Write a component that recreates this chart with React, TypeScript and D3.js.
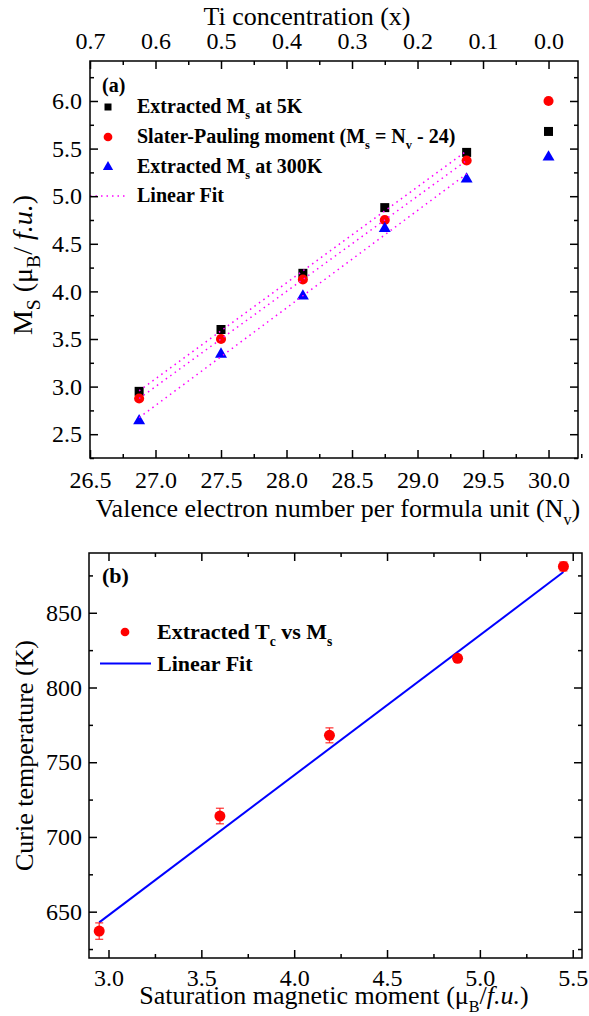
import React, { useEffect, useRef } from "react";
import * as d3 from "d3";

// ---------- Panel (a) data ----------
const nvValues = [26.875, 27.5, 28.125, 28.75, 29.375, 30.0];
const ms5K = [2.95, 3.6, 4.19, 4.88, 5.46, 5.68];
const msSlaterPauling = [2.875, 3.5, 4.125, 4.75, 5.375, 6.0];
const ms300K = [2.64, 3.34, 3.95, 4.66, 5.18, 5.41];
const fitCount = 5; // linear fits use the first five compositions

const nvMajorTicks = [26.5, 27.0, 27.5, 28.0, 28.5, 29.0, 29.5, 30.0];
const nvMinorTicks = [26.75, 27.25, 27.75, 28.25, 28.75, 29.25, 29.75, 30.25];
const tiMajorTicks = [0.7, 0.6, 0.5, 0.4, 0.3, 0.2, 0.1, 0.0];
const tiMinorTicks = [0.65, 0.55, 0.45, 0.35, 0.25, 0.15, 0.05];
const msMajorTicks = [2.5, 3.0, 3.5, 4.0, 4.5, 5.0, 5.5, 6.0];
const msMinorTicks = [2.25, 2.75, 3.25, 3.75, 4.25, 4.75, 5.25, 5.75, 6.25];

// ---------- Panel (b) data ----------
const msB = [2.95, 3.6, 4.19, 4.88, 5.45];
const tcB = [637, 714, 768, 819.5, 881];
const tcErr = [5.5, 5.2, 5.0, 2.0, 3.0];
const fitBCoef = [366.3, 93.75]; // intercept, slope

const msBMajorTicks = [3.0, 3.5, 4.0, 4.5, 5.0, 5.5];
const msBMinorTicks = [3.25, 3.75, 4.25, 4.75, 5.25];
const tcMajorTicks = [650, 700, 750, 800, 850];
const tcMinorTicks = [625, 675, 725, 775, 825, 875];

const FONT = "Liberation Serif, DejaVu Serif, serif";

const A = { l: 90, r: 578, t: 61, b: 458 };
const B = { l: 89, r: 582, t: 553, b: 958 };

const xA = d3.scaleLinear().domain([26.5, 30.225]).range([A.l, A.r]);
const xATop = d3.scaleLinear().domain([0.7, -0.045]).range([A.l, A.r]);
const yA = d3.scaleLinear().domain([2.25, 6.42]).range([A.b, A.t]);
const xB = d3.scaleLinear().domain([2.895, 5.55]).range([B.l, B.r]);
const yB = d3.scaleLinear().domain([619, 890]).range([B.b, B.t]);

function linFit(xs: number[], ys: number[]) {
  const n = xs.length;
  const mx = d3.mean(xs) as number;
  const my = d3.mean(ys) as number;
  let sxy = 0, sxx = 0;
  for (let i = 0; i < n; i++) {
    sxy += (xs[i] - mx) * (ys[i] - my);
    sxx += (xs[i] - mx) * (xs[i] - mx);
  }
  const slope = sxy / sxx;
  return { slope, intercept: my - slope * mx };
}

function drawAxis(
  parent: any,
  orient: "bottom" | "top" | "left" | "right",
  scale: any,
  major: number[],
  minor: number[],
  fmt: ((d: any) => string) | null,
  pad: number,
  tx: number,
  ty: number
) {
  const mk =
    orient === "bottom" ? d3.axisBottom : orient === "top" ? d3.axisTop : orient === "left" ? d3.axisLeft : d3.axisRight;
  const g = parent.append("g").attr("transform", `translate(${tx},${ty})`);
  const gm = g.append("g").call(mk(scale).tickValues(minor).tickSize(-4));
  gm.selectAll("text").remove();
  const gM = g.append("g").call(
    mk(scale)
      .tickValues(major)
      .tickSize(-8)
      .tickPadding(pad)
      .tickFormat(fmt ? (fmt as any) : () => "")
  );
  if (!fmt) gM.selectAll("text").remove();
  g.selectAll(".domain").remove();
  g.selectAll("line").attr("stroke", "#000").attr("stroke-width", 1.5);
  g.selectAll("text")
    .attr("font-family", FONT)
    .style("font-family", FONT)
    .attr("font-size", 24)
    .attr("fill", "#000");
}

const sym = (type: any, size: number) => d3.symbol().type(type).size(size)() as string;

export default function App() {
  const axRef = useRef<SVGGElement>(null);

  useEffect(() => {
    const g = d3.select(axRef.current);
    g.selectAll("*").remove();
    const f1 = d3.format(".1f");
    // panel a
    drawAxis(g, "bottom", xA, nvMajorTicks, nvMinorTicks, f1, 13, 0, A.b);
    drawAxis(g, "top", xATop, tiMajorTicks, tiMinorTicks, f1, 12, 0, A.t);
    drawAxis(g, "left", yA, msMajorTicks, msMinorTicks, f1, 8, A.l, 0);
    drawAxis(g, "right", yA, msMajorTicks, msMinorTicks, null, 8, A.r, 0);
    // panel b
    drawAxis(g, "bottom", xB, msBMajorTicks, msBMinorTicks, f1, 11, 0, B.b);
    drawAxis(g, "top", xB, msBMajorTicks, msBMinorTicks, null, 8, 0, B.t);
    drawAxis(g, "left", yB, tcMajorTicks, tcMinorTicks, d3.format("d"), 7, B.l, 0);
    drawAxis(g, "right", yB, tcMajorTicks, tcMinorTicks, null, 8, B.r, 0);
  }, []);

  const fitXs = nvValues.slice(0, fitCount);
  const fits = [ms5K, msSlaterPauling, ms300K].map((ys) => linFit(fitXs, ys.slice(0, fitCount)));
  const fitX0 = fitXs[0];
  const fitX1 = fitXs[fitXs.length - 1];

  const sq = sym(d3.symbolSquare, 81);
  const ci = sym(d3.symbolCircle, 80);
  const tri = sym(d3.symbolTriangle, 62);
  const sqL = sym(d3.symbolSquare, 49);
  const ciL = sym(d3.symbolCircle, 60);
  const triL = sym(d3.symbolTriangle, 46);
  const ciB = sym(d3.symbolCircle, 95);

  const fitBLine = d3.line<number>().x((d) => xB(d)).y((d) => yB(fitBCoef[0] + fitBCoef[1] * d));
  const fitBRange = [msB[0], msB[msB.length - 1]];

  const legA = [107, 137, 167, 196];
  const LA = 20;
  const LB = 22;
  const TT = 26;
  const YT = 28;
  const Sub = ({ s, size, after, k = 0.62 }: { s: string; size: number; after: string; k?: number }) => (
    <>
      <tspan dy={size * 0.3} fontSize={size * k}>
        {s}
      </tspan>
      <tspan dy={-size * 0.3}>{after}</tspan>
    </>
  );

  return (
    <svg
      width={589}
      height={1016}
      style={{ position: "absolute", left: 0, top: 0, background: "#fff", fontFamily: FONT }}
      fontFamily={FONT}
    >
      <rect x={0} y={0} width={589} height={1016} fill="#fff" />

      {/* Panel (a) marks */}
      {nvValues.map((v, i) => (
        <path key={"s" + i} d={sq} transform={`translate(${xA(v)},${yA(ms5K[i])})`} fill="#000" />
      ))}
      {nvValues.map((v, i) => (
        <path key={"c" + i} d={ci} transform={`translate(${xA(v)},${yA(msSlaterPauling[i])})`} fill="#ff0000" />
      ))}
      {nvValues.map((v, i) => (
        <path key={"t" + i} d={tri} transform={`translate(${xA(v)},${yA(ms300K[i])})`} fill="#0000ff" />
      ))}
      {fits.map((f, i) => (
        <line
          key={"f" + i}
          x1={xA(fitX0)}
          y1={yA(f.intercept + f.slope * fitX0)}
          x2={xA(fitX1)}
          y2={yA(f.intercept + f.slope * fitX1)}
          stroke="#ff00ff"
          strokeWidth={1.5}
          strokeDasharray="1.5 4"
        />
      ))}

      {/* Panel (a) legend */}
      <text x={102} y={92} fontSize={LA} fontWeight="bold">(a)</text>
      <path d={sqL} transform={`translate(108,${legA[0]})`} fill="#000" />
      <path d={ciL} transform={`translate(108,${legA[1]})`} fill="#ff0000" />
      <path d={triL} transform={`translate(108,${legA[2]})`} fill="#0000ff" />
      <line x1={90} x2={128} y1={legA[3]} y2={legA[3]} stroke="#ff00ff" strokeWidth={1.5} strokeDasharray="1.5 4" />
      <g fontSize={LA} fontWeight="bold" fill="#000">
        <text x={137} y={legA[0] + 6}>
          Extracted M<Sub s="s" size={LA} after=" at 5K" />
        </text>
        <text x={137} y={legA[1] + 6}>
          Slater-Pauling moment (M<Sub s="s" size={LA} after=" = N" />
          <Sub s="v" size={LA} after=" - 24)" />
        </text>
        <text x={137} y={legA[2] + 6}>
          Extracted M<Sub s="s" size={LA} after=" at 300K" />
        </text>
        <text x={137} y={legA[3] + 6}>Linear Fit</text>
      </g>

      {/* Panel (a) titles */}
      <text x={307} y={25} fontSize={TT} textAnchor="middle">Ti concentration (x)</text>
      <text x={338} y={517} fontSize={TT} textAnchor="middle">
        Valence electron number per formula unit (N<Sub s="v" size={TT} after=")" />
      </text>
      <text transform={`translate(32,265) rotate(-90)`} fontSize={YT} textAnchor="middle">
        M<Sub s="S" size={YT} k={0.7} after=" (μ" />
        <Sub s="B" size={YT} k={0.7} after="/ " />
        <tspan fontStyle="italic">f.u.</tspan>)
      </text>

      {/* Panel (b) marks */}
      <path d={fitBLine(fitBRange) as string} fill="none" stroke="#0000ff" strokeWidth={2} />
      {msB.map((v, i) => (
        <g key={"e" + i} stroke="#ff0000" strokeOpacity={0.75} strokeWidth={1.3}>
          <line x1={xB(v)} x2={xB(v)} y1={yB(tcB[i] - tcErr[i])} y2={yB(tcB[i] + tcErr[i])} />
          <line x1={xB(v) - 4} x2={xB(v) + 4} y1={yB(tcB[i] - tcErr[i])} y2={yB(tcB[i] - tcErr[i])} />
          <line x1={xB(v) - 4} x2={xB(v) + 4} y1={yB(tcB[i] + tcErr[i])} y2={yB(tcB[i] + tcErr[i])} />
        </g>
      ))}
      {msB.map((v, i) => (
        <path key={"p" + i} d={ciB} transform={`translate(${xB(v)},${yB(tcB[i])})`} fill="#ff0000" />
      ))}

      {/* Panel (b) legend */}
      <text x={102} y={583} fontSize={LB} fontWeight="bold">(b)</text>
      <path d={ciL} transform="translate(125,632)" fill="#ff0000" />
      <line x1={100} x2={151} y1={663.5} y2={663.5} stroke="#0000ff" strokeWidth={2} />
      <g fontSize={LB} fontWeight="bold" fill="#000">
        <text x={157} y={639}>
          Extracted T<Sub s="c" size={LB} after=" vs M" />
          <Sub s="s" size={LB} after="" />
        </text>
        <text x={157} y={670.5}>Linear Fit</text>
      </g>

      {/* Panel (b) titles */}
      <text x={334} y={1004} fontSize={TT} textAnchor="middle">
        Saturation magnetic moment (μ<Sub s="B" size={TT} after="/" />
        <tspan fontStyle="italic">f.u.</tspan>)
      </text>
      <text transform={`translate(33,${(B.t + B.b) / 2}) rotate(-90)`} fontSize={TT} textAnchor="middle">
        Curie temperature (K)
      </text>

      {/* Frames */}
      <rect x={A.l} y={A.t} width={A.r - A.l} height={A.b - A.t} fill="none" stroke="#000" strokeWidth={1.5} />
      <rect x={B.l} y={B.t} width={B.r - B.l} height={B.b - B.t} fill="none" stroke="#000" strokeWidth={1.5} />

      <g ref={axRef} />
    </svg>
  );
}
